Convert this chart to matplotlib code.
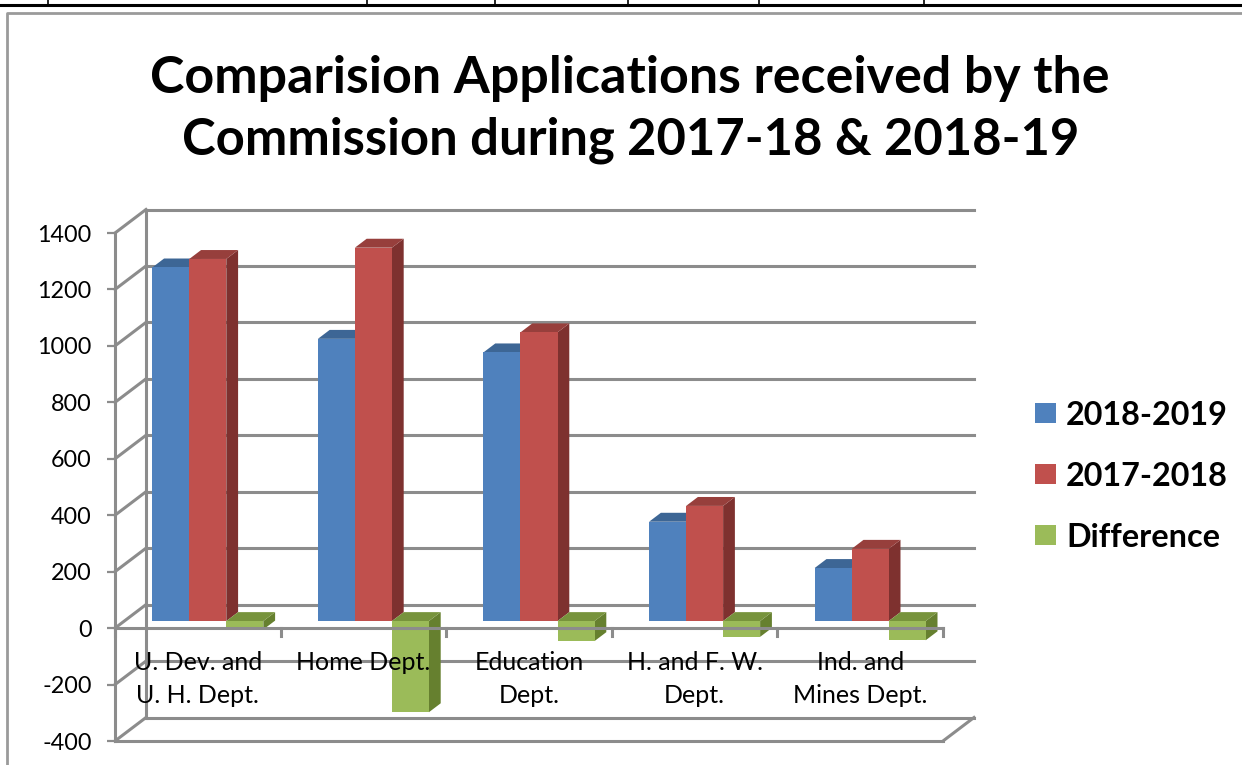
import matplotlib
matplotlib.use("Agg")
import matplotlib.pyplot as plt
from matplotlib.patches import Polygon, Rectangle
from matplotlib.lines import Line2D

# ---------------- data ----------------
categories = ["U. Dev. and\nU. H. Dept.", "Home Dept.", "Education\nDept.",
              "H. and F. W.\nDept.", "Ind. and\nMines Dept."]
series_names = ["2018-2019", "2017-2018", "Difference"]
values_2018_19 = [1253, 1000, 952, 352, 188]
values_2017_18 = [1283, 1323, 1023, 408, 256]
values_diff = [-30, -323, -71, -56, -68]
y_ticks = [-400, -200, 0, 200, 400, 600, 800, 1000, 1200, 1400]
title_lines = ["Comparision Applications received by the",
               "Commission during 2017-18 & 2018-19"]

series = [values_2018_19, values_2017_18, values_diff]
front_colors = ["#4F81BD", "#C0504D", "#9BBB59"]
top_colors = ["#3D6695", "#973F3C", "#77933C"]
side_colors = ["#34577F", "#7E312F", "#66802F"]
grid_color = "#8C8C8C"

FONT = "Lato"
W, H = 1242, 765
fig = plt.figure(figsize=(W / 100, H / 100), dpi=100)
fig.patch.set_facecolor("white")

# plot box (front plane) in pixels
x0p, x1p = 115, 943
ytop_p, ybot_p = 233, 741
ax = fig.add_axes([x0p / W, 1 - ybot_p / H, (x1p - x0p) / W, (ybot_p - ytop_p) / H])
ax.set_xlim(0, len(categories))
ax.set_ylim(y_ticks[0], y_ticks[-1])
ax.patch.set_alpha(0)

# depth offsets in data units
px_per_c = (x1p - x0p) / len(categories)
px_per_v = (ybot_p - ytop_p) / (y_ticks[-1] - y_ticks[0])
DX = 31 / px_per_c
DY = 23.5 / px_per_v


def P(c, v, d):
    return (c + d * DX, v + d * DY)


def yv(ypx):
    return y_ticks[-1] - (ypx - ytop_p) / px_per_v


ncat = len(categories)
LW = 2.2
# back wall gridlines + side wall diagonals
for v in y_ticks:
    a, b = P(0, v, 1), P(ncat, v, 1)
    ax.add_line(Line2D([a[0], b[0]], [a[1], b[1]], color=grid_color, lw=LW,
                       zorder=1, clip_on=False))
    a, b = P(0, v, 0), P(0, v, 1)
    ax.add_line(Line2D([a[0], b[0]], [a[1], b[1]], color=grid_color, lw=LW,
                       zorder=1, clip_on=False))
# back wall left edge
a, b = P(0, y_ticks[0], 1), P(0, y_ticks[-1], 1)
ax.add_line(Line2D([a[0], b[0]], [a[1], b[1]], color=grid_color, lw=LW, zorder=1, clip_on=False))
# floor right edge
a, b = P(ncat, y_ticks[0], 0), P(ncat, y_ticks[0], 1)
ax.add_line(Line2D([a[0], b[0]], [a[1], b[1]], color=grid_color, lw=LW, zorder=1, clip_on=False))

# bars
gap = 0.169
bw = 0.2235
d0, d1 = 0.30, 0.68
z = 2
for i in range(ncat):
    for j, vals in enumerate(series):
        v = vals[i]
        cl = i + gap + j * bw
        cr = cl + bw
        vb, vt = min(0, v), max(0, v)
        side = [P(cr, vb, d0), P(cr, vt, d0), P(cr, vt, d1), P(cr, vb, d1)]
        top = [P(cl, vt, d0), P(cr, vt, d0), P(cr, vt, d1), P(cl, vt, d1)]
        front = [P(cl, vb, d0), P(cr, vb, d0), P(cr, vt, d0), P(cl, vt, d0)]
        ax.add_patch(Polygon(side, closed=True, fc=side_colors[j], ec="none", zorder=z, clip_on=False))
        ax.add_patch(Polygon(top, closed=True, fc=top_colors[j], ec="none", zorder=z, clip_on=False))
        ax.add_patch(Polygon(front, closed=True, fc=front_colors[j], ec="none", zorder=z, clip_on=False))
        z += 0.01

# horizontal axis at 0 with ticks
ax.plot([0, ncat], [0, 0], color=grid_color, lw=LW, zorder=6, clip_on=False)
for k in range(ncat + 1):
    ax.plot([k, k], [0, -28], color=grid_color, lw=LW, zorder=6, clip_on=False)

# spines / ticks
for s in ["top", "right"]:
    ax.spines[s].set_visible(False)
for s in ["left", "bottom"]:
    ax.spines[s].set_color(grid_color)
    ax.spines[s].set_linewidth(LW)
    ax.spines[s].set_zorder(6)
ax.set_xticks([])
ax.set_yticks(y_ticks)
ax.set_yticklabels([str(t) for t in y_ticks], fontsize=16.8, family=FONT)
ax.tick_params(axis="y", direction="out", length=5.8, width=1.6, color=grid_color, pad=11)

# category labels (each line placed on its own baseline)
for i, lab in enumerate(categories):
    for k, line in enumerate(lab.split("\n")):
        ax.text(i + 0.5, yv(670 + 33 * k), line, ha="center", va="baseline",
                fontsize=18, family=FONT, zorder=7)

renderer = fig.canvas.get_renderer()


def fit_text(xpx, ypx, s, width_px, ha, **kw):
    t = fig.text(xpx / W, 1 - ypx / H, s, ha=ha, va="baseline", **kw)
    w = t.get_window_extent(renderer).width
    t.set_fontsize(t.get_fontsize() * width_px / w)
    return t


# title
fit_text(630, 93, title_lines[0], 960, "center", family=FONT, weight="bold", fontsize=30)
fit_text(631, 154, title_lines[1], 897, "center", family=FONT, weight="bold", fontsize=30)

# legend
rows_y = [413, 474, 535]
for name, col, yc in zip(series_names, front_colors, rows_y):
    fig.add_artist(Rectangle((1035 / W, 1 - (yc + 10) / H), 21 / W, 20 / H,
                             transform=fig.transFigure, fc=col, ec="none"))
    fig.text(1066 / W, 1 - (yc + 12) / H, name, ha="left", va="baseline",
             family=FONT, weight="bold", fontsize=23.3)

# chart frame and document table lines
fig.add_artist(Line2D([7 / W, 7 / W, 1.0], [0.0, 1 - 12.5 / H, 1 - 12.5 / H],
                      transform=fig.transFigure, color="#9A9A9A", lw=2))
fig.add_artist(Line2D([0, 1], [1 - 4.5 / H, 1 - 4.5 / H], transform=fig.transFigure,
                      color="black", lw=2.2))
for xt in [48, 367, 495, 628, 759, 924]:
    fig.add_artist(Line2D([xt / W, xt / W], [1 - 4.5 / H, 1.0], transform=fig.transFigure,
                          color="black", lw=1.2))

fig.savefig("out.png", dpi=100)
